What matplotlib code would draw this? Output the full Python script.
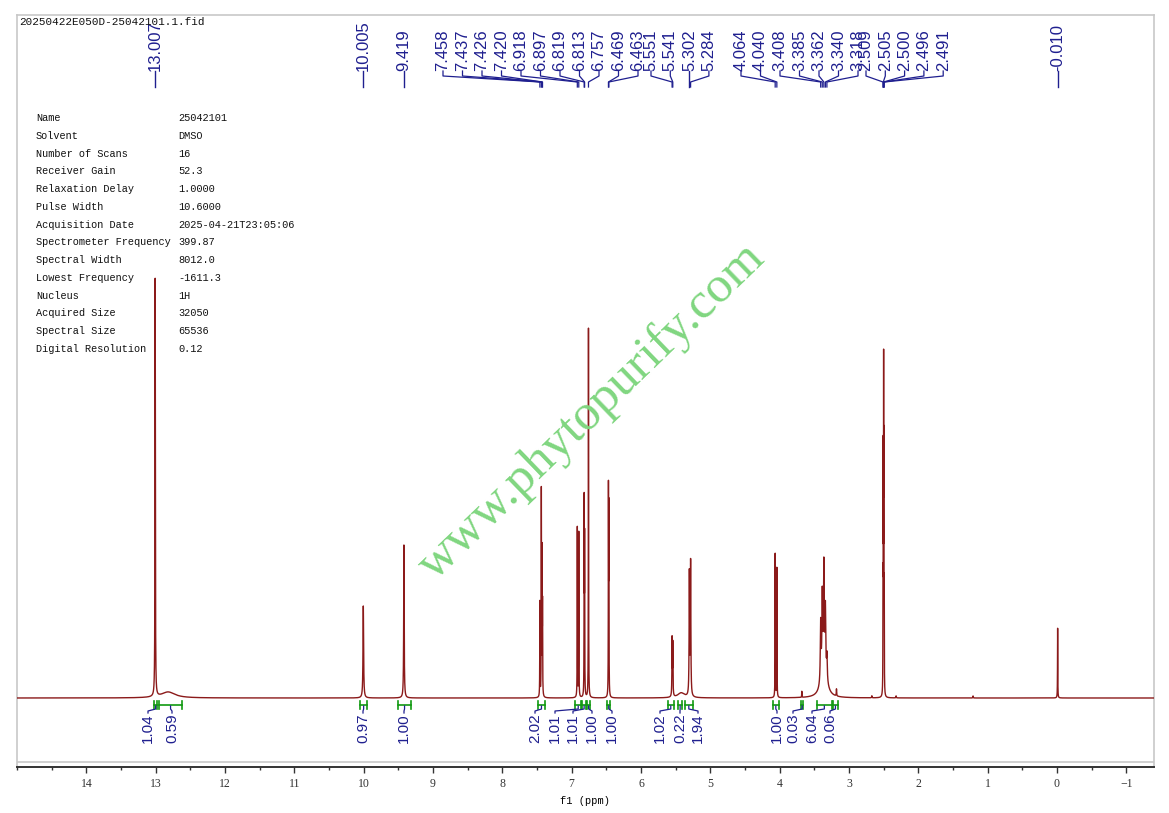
import numpy as np
import matplotlib
matplotlib.use("Agg")
import matplotlib.pyplot as plt
from matplotlib.ticker import MultipleLocator
from matplotlib import transforms

# picked peaks (ppm) shown at the top
peak_ppm = [13.007, 10.005, 9.419,
            7.458, 7.437, 7.426, 7.420, 6.918, 6.897, 6.819, 6.813, 6.757, 6.469, 6.463,
            5.551, 5.541, 5.302, 5.284,
            4.064, 4.040, 3.408, 3.385, 3.362, 3.340, 3.318,
            2.509, 2.505, 2.500, 2.496, 2.491, -0.010]

# lines that make up the spectrum: shift, height, half width
line_ppm = [13.007, 12.82, 10.005, 9.419,
            7.458, 7.437, 7.426, 7.420, 6.918, 6.897, 6.819, 6.813, 6.757, 6.469, 6.463,
            5.551, 5.541, 5.42, 5.302, 5.284, 4.064, 4.040, 3.68,
            3.408, 3.385, 3.362, 3.340, 3.318, 3.36, 3.18, 2.67,
            2.509, 2.505, 2.500, 2.496, 2.491, 2.32, 1.21, -0.010]
line_height = [418, 6, 92, 153,
               95, 205, 140, 85, 170, 165, 190, 150, 370, 200, 180,
               57, 52, 5, 122, 133, 144, 130, 6,
               60, 80, 105, 65, 25, 25, 7, 2,
               95, 220, 300, 220, 95, 2, 2, 70]
line_hwhm = [0.003, 0.12, 0.005, 0.004,
             0.002, 0.002, 0.002, 0.002, 0.002, 0.002, 0.002, 0.002, 0.002, 0.002, 0.002,
             0.003, 0.003, 0.06, 0.004, 0.004, 0.002, 0.002, 0.002,
             0.006, 0.006, 0.006, 0.006, 0.006, 0.05, 0.003, 0.003,
             0.0015, 0.0015, 0.0015, 0.0015, 0.0015, 0.003, 0.003, 0.002]

# integrals: range (ppm) and value
int_from = [13.02, 12.95, 10.05, 9.50, 7.49, 6.95, 6.85, 6.78, 6.49, 5.61, 5.46, 5.37, 4.10, 3.69, 3.46, 3.23]
int_to = [12.98, 12.62, 9.95, 9.32, 7.38, 6.86, 6.79, 6.73, 6.44, 5.53, 5.41, 5.25, 4.01, 3.66, 3.25, 3.16]
int_value = ["1.04", "0.59", "0.97", "1.00", "2.02", "1.01", "1.01", "1.00", "1.00",
             "1.02", "0.22", "1.94", "1.00", "0.03", "6.04", "0.06"]

param_names = ["Name", "Solvent", "Number of Scans", "Receiver Gain", "Relaxation Delay",
               "Pulse Width", "Acquisition Date", "Spectrometer Frequency", "Spectral Width",
               "Lowest Frequency", "Nucleus", "Acquired Size", "Spectral Size", "Digital Resolution"]
param_values = ["25042101", "DMSO", "16", "52.3", "1.0000", "10.6000", "2025-04-21T23:05:06",
                "399.87", "8012.0", "-1611.3", "1H", "32050", "65536", "0.12"]

W, H = 1169, 813
fig = plt.figure(figsize=(W / 100, H / 100), dpi=100)
ax = fig.add_axes([17 / W, 46 / H, 1137 / W, 752 / H])
x0, x1 = 15.0, -1.4
ax.set_xlim(x0, x1)
ax.set_ylim(-69, 683)


def px2ppm(px):
    return x0 - (px - 17) * (x0 - x1) / 1137


def ppm2px(p):
    return 17 + (x0 - p) * 1137 / (x0 - x1)


# build spectrum from the line list
x = np.linspace(x0, x1, 65536)
y = np.zeros_like(x)
for c, h, w in zip(line_ppm, line_height, line_hwhm):
    y += h / (1 + ((x - c) / w) ** 2)
ax.plot(x, y, color="#8b1a1a", lw=1.0, zorder=3)

# frame
for s in ["top", "left", "right"]:
    ax.spines[s].set_color("#c8c8c8")
    ax.spines[s].set_linewidth(1.2)
ax.spines["bottom"].set_color("#333333")
ax.spines["bottom"].set_linewidth(1.4)
ax.axhline(-64, color="#c8c8c8", lw=1.2)
ax.set_yticks([])
ax.set_xticks(np.arange(14, -2, -1))
ax.xaxis.set_minor_locator(MultipleLocator(0.5))
ax.tick_params(axis="x", which="major", direction="out", length=4, width=1, pad=4,
               labelsize=8.5, colors="#333333")
ax.tick_params(axis="x", which="minor", direction="out", length=2.5, width=1, colors="#333333")
for t in ax.get_xticklabels():
    t.set_family("Liberation Serif")
ax.set_xlabel("f1 (ppm)", family="Liberation Mono", fontsize=7.5, labelpad=4)

# y in image pixel rows, x in ppm
rows = transforms.Affine2D().scale(1, -1 / H).translate(0, 1) + fig.transFigure
tr = transforms.blended_transform_factory(ax.transData, rows)

# peak labels along the top
label_px = [ppm2px(13.007), ppm2px(10.005), ppm2px(9.419)]
label_px += [443 + 19.5 * i for i in range(11)]
label_px += [651 + 19.3 * i for i in range(4)]
label_px += [741 + 19.5 * i for i in range(7)]
label_px += [866 + 19.3 * i for i in range(5)]
label_px += [ppm2px(-0.010)]
blue = "#1f1f8f"
for p, lp in zip(peak_ppm, label_px):
    lx = px2ppm(lp)
    ax.text(lx, 71, f"{p:.3f}", transform=tr, rotation=90, ha="center", va="bottom",
            family="Liberation Sans", fontsize=12, color=blue, clip_on=False)
    if abs(lp - ppm2px(p)) < 1:
        ax.plot([p, p], [71, 87], transform=tr, color=blue, lw=1, clip_on=False)
    else:
        ax.plot([lx, lx, p, p], [71, 76, 82, 87], transform=tr, color=blue, lw=0.9, clip_on=False)

# integrals below the baseline
int_label_px = [148, 172, 363, 404, 535, 555, 573, 592, 612, 660, 680, 698, 777, 793, 812, 830]
green = "#119911"
for a, b, v, lp in zip(int_from, int_to, int_value, int_label_px):
    ax.plot([a, b], [705, 705], transform=tr, color=green, lw=1.2, clip_on=False)
    ax.plot([a, a], [701, 709], transform=tr, color=green, lw=1.2, clip_on=False)
    ax.plot([b, b], [701, 709], transform=tr, color=green, lw=1.2, clip_on=False)
    c = (a + b) / 2
    lx = px2ppm(lp)
    ax.plot([c, c, lx, lx], [706, 709, 711, 713], transform=tr, color=blue, lw=0.9, clip_on=False)
    ax.text(lx, 713, v, transform=tr, rotation=90, ha="center", va="top",
            family="Liberation Sans", fontsize=11, color=blue, clip_on=False)

# watermark
fig.text(592 / W, 1 - 412 / H, "www.phytopurify.com", rotation=44, ha="center", va="center",
         family="Liberation Serif", fontsize=37, color="#80d680", zorder=1)

# title and parameter table
fig.text(19 / W, 1 - 22 / H, "20250422E050D-25042101.1.fid", ha="left", va="center",
         family="Liberation Mono", fontsize=7.9, color="#111111")
for i, (n, v) in enumerate(zip(param_names, param_values)):
    yy = 1 - (118 + i * 17.77) / H
    fig.text(36 / W, yy, n, ha="left", va="center", family="Liberation Mono", fontsize=7.4, color="#111111")
    fig.text(178 / W, yy, v, ha="left", va="center", family="Liberation Mono", fontsize=7.4, color="#111111")

fig.savefig("out.png", dpi=100)
